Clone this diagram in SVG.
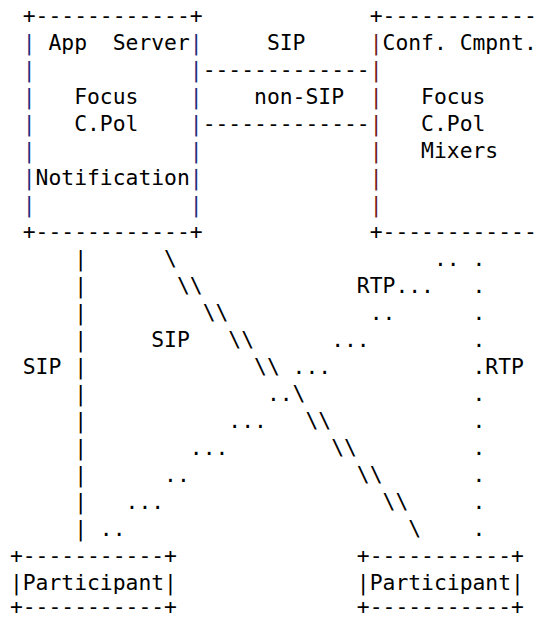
<svg xmlns="http://www.w3.org/2000/svg" width="541" height="619" viewBox="0 0 541 619">
  <style>
    text { font-family: "DejaVu Sans Mono", "Liberation Mono", monospace; font-size: 21.35px; fill: #000; white-space: pre; }
    .as { fill: #1f2c7a; }
    .cc { fill: #6e1c1c; }
  </style>
  <rect width="541" height="619" fill="#fff"/>

  <!-- Application server box (columns 1..14) -->
  <g id="app-server">
    <text x="22.75" y="23">+------------+</text>
    <text x="22.75" y="239">+------------+</text>
    <g class="as">
      <text class="as" x="22.75" y="50">|</text><text class="as" x="189.8" y="50">|</text>
      <text class="as" x="22.75" y="77">|</text><text class="as" x="189.8" y="77">|</text>
      <text class="as" x="22.75" y="104">|</text><text class="as" x="189.8" y="104">|</text>
      <text class="as" x="22.75" y="131">|</text><text class="as" x="189.8" y="131">|</text>
      <text class="as" x="22.75" y="158">|</text><text class="as" x="189.8" y="158">|</text>
      <text class="as" x="22.75" y="185">|</text><text class="as" x="189.8" y="185">|</text>
      <text class="as" x="22.75" y="212">|</text><text class="as" x="189.8" y="212">|</text>
    </g>
    <text x="48.45" y="50" xml:space="preserve">App  Server</text>
    <text x="74.15" y="104">Focus</text>
    <text x="74.15" y="131">C.Pol</text>
    <text x="35.6" y="185">Notification</text>
  </g>

  <!-- Conference component box (open to the right, column 28 onward) -->
  <g id="conf-component">
    <text x="369.7" y="23">+------------</text>
    <text x="369.7" y="239">+------------</text>
    <text class="cc" x="369.7" y="50">|</text>
    <text class="cc" x="369.7" y="77">|</text>
    <text class="cc" x="369.7" y="104">|</text>
    <text class="cc" x="369.7" y="131">|</text>
    <text class="cc" x="369.7" y="158">|</text>
    <text class="cc" x="369.7" y="185">|</text>
    <text class="cc" x="369.7" y="212">|</text>
    <text x="382.55" y="50" xml:space="preserve">Conf. Cmpnt.</text>
    <text x="421.1" y="104">Focus</text>
    <text x="421.1" y="131">C.Pol</text>
    <text x="421.1" y="158">Mixers</text>
  </g>

  <!-- Participant boxes -->
  <g id="participant-left">
    <text x="9.9" y="563">+-----------+</text>
    <text x="9.9" y="590">|Participant|</text>
    <text x="9.9" y="613.5">+-----------+</text>
  </g>
  <g id="participant-right">
    <text x="356.85" y="563">+-----------+</text>
    <text x="356.85" y="590">|Participant|</text>
    <text x="356.85" y="613.5">+-----------+</text>
  </g>

  <g id="connectors">
    <!-- SIP / non-SIP links between the two upper boxes -->
    <text x="266.9" y="50">SIP</text>
    <text x="202.65" y="77">-------------</text>
    <text x="254.05" y="104">non-SIP</text>
    <text x="202.65" y="131">-------------</text>

    <!-- SIP: app server down to left participant -->
    <text x="74.15" y="266">|</text>
    <text x="74.15" y="293">|</text>
    <text x="74.15" y="320">|</text>
    <text x="74.15" y="347">|</text>
    <text x="74.15" y="374">|</text>
    <text x="74.15" y="401">|</text>
    <text x="74.15" y="428">|</text>
    <text x="74.15" y="455">|</text>
    <text x="74.15" y="482">|</text>
    <text x="74.15" y="509">|</text>
    <text x="74.15" y="536">|</text>
    <text x="22.75" y="374">SIP</text>

    <!-- SIP: app server down to right participant -->
    <text x="164.1" y="266">\</text>
    <text x="176.95" y="293">\\</text>
    <text x="202.65" y="320">\\</text>
    <text x="228.35" y="347">\\</text>
    <text x="254.05" y="374">\\</text>
    <text x="292.6" y="401">\</text>
    <text x="305.45" y="428">\\</text>
    <text x="331.15" y="455">\\</text>
    <text x="356.85" y="482">\\</text>
    <text x="382.55" y="509">\\</text>
    <text x="408.25" y="536">\</text>
    <text x="151.25" y="347">SIP</text>

    <!-- RTP: conference component down to left participant -->
    <text x="433.95" y="266">..</text>
    <text x="356.85" y="293">RTP...</text>
    <text x="369.7" y="320">..</text>
    <text x="331.15" y="347">...</text>
    <text x="292.6" y="374">...</text>
    <text x="266.9" y="401">..</text>
    <text x="228.35" y="428">...</text>
    <text x="189.8" y="455">...</text>
    <text x="164.1" y="482">..</text>
    <text x="125.55" y="509">...</text>
    <text x="99.85" y="536">..</text>

    <!-- RTP: conference component down to right participant -->
    <text x="472.5" y="266">.</text>
    <text x="472.5" y="293">.</text>
    <text x="472.5" y="320">.</text>
    <text x="472.5" y="347">.</text>
    <text x="472.5" y="374">.RTP</text>
    <text x="472.5" y="401">.</text>
    <text x="472.5" y="428">.</text>
    <text x="472.5" y="455">.</text>
    <text x="472.5" y="482">.</text>
    <text x="472.5" y="509">.</text>
    <text x="472.5" y="536">.</text>
  </g>
</svg>
